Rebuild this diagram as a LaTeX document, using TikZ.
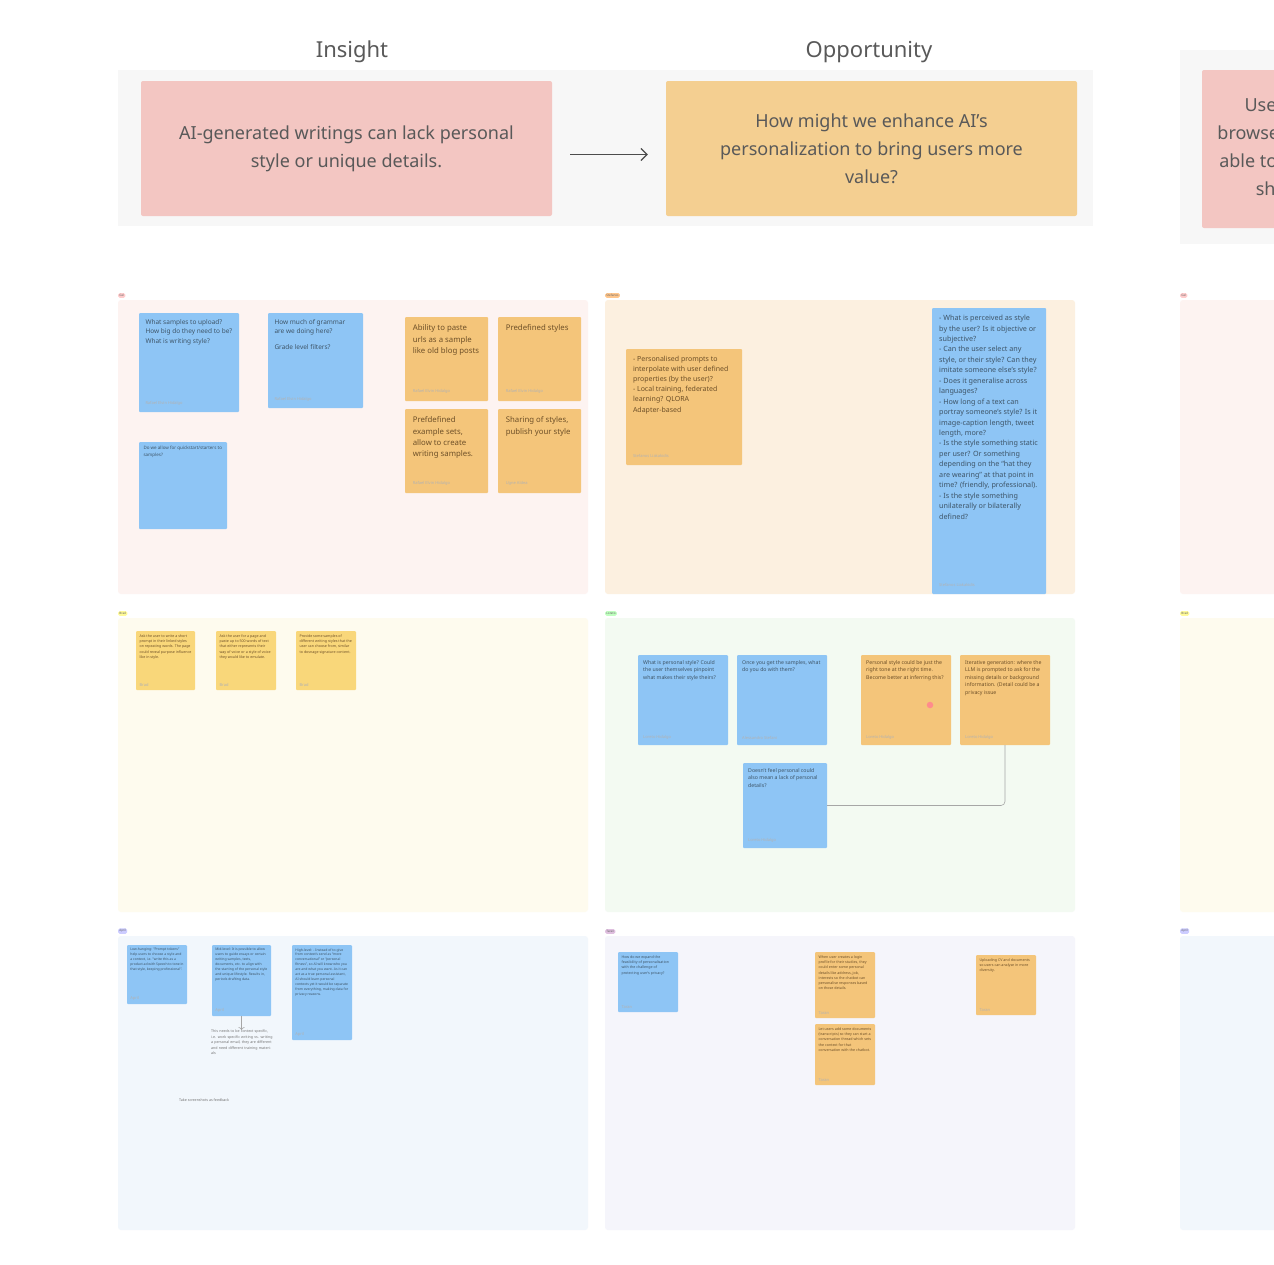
\documentclass[tikz,border=0pt]{standalone}
\usepackage{fontspec}
\setmainfont{Noto Sans}
\usetikzlibrary{positioning,arrows.meta}
\definecolor{stblue}{HTML}{8EC5F5}
\definecolor{storange}{HTML}{F4C57A}
\definecolor{styellow}{HTML}{F9D77A}
\definecolor{stpink}{HTML}{F3C6C2}
\definecolor{stpeach}{HTML}{F4CF91}
\definecolor{bluetext}{HTML}{3E5568}
\definecolor{orangetext}{HTML}{6E5028}
\definecolor{bgpink}{HTML}{FDF3F1}
\definecolor{bgpeach}{HTML}{FCF0E0}
\definecolor{bgyellow}{HTML}{FEFBEE}
\definecolor{bggreen}{HTML}{F3FAF2}
\definecolor{bgblue}{HTML}{F2F7FC}
\definecolor{bglilac}{HTML}{F5F5FB}
% name, colour, x, y, width, height, font size, text
\newcommand\stick[8]{%
  \node[sticky,fill=st#2,text=#2text,inner sep=#7pt,font=\fontsize{#7}{\dimexpr#7pt*145/100\relax}\selectfont] (#1) at (#3+#5/2,#4+#6/2)
    {\parbox[c][\dimexpr#6pt-2\dimexpr#7pt\relax\relax][t]{\dimexpr#5pt-2\dimexpr#7pt\relax\relax}{\raggedright #8}};}
\colorlet{yellowtext}{orangetext}
\newcommand\who[1]{\par\vfill{\color{black!30}\fontsize{4}{5}\selectfont #1}}

\begin{document}
\begin{tikzpicture}[x=1pt,y=-1pt,
  sticky/.style={rectangle,rounded corners=1pt,draw=none},
  band/.style={fill=#1,draw=none,rounded corners=3pt},
  tag/.style={fill=#1,rounded corners=1.5pt,inner sep=1.2pt,font=\fontsize{3}{3}\selectfont,text=black!60,anchor=south west},
  title/.style={font=\fontsize{22}{22}\selectfont,text=black!65},
  big/.style={rectangle,rounded corners=2pt,align=center,font=\fontsize{18}{28}\selectfont,text=black!65},
  link/.style={draw=black!35,line width=0.6pt,rounded corners=4pt}]
  \useasboundingbox (0,0) rectangle (1274,1264);
  \clip (0,0) rectangle (1274,1264);
  \fill[white] (0,0) rectangle (1274,1264);

  % top row
  \fill[black!3] (118,70) rectangle (1093,226);
  \fill[black!3] (1180,50) rectangle (1290,244);
  \node[title] (tins) at (352,52) {Insight};
  \node[title] (topp) at (869,52) {Opportunity};
  \node[big,fill=stpink,minimum width=411pt,minimum height=135pt] (ins) at (346.5,148.5) {AI-generated writings can lack personal\\style or unique details.};
  \node[big,fill=stpeach,minimum width=411pt,minimum height=135pt] (opp) at (871.5,148.5) {How might we enhance AI’s\\personalization to bring users more\\value?};
  \node[big,fill=stpink,minimum width=411pt,minimum height=158pt] (ins2) at (1407.5,149) {Users would like a simple way to easily\\browse through many different styles and be\\able to apply them all to their own writing or\\share their styles with other people.};
  \draw[-{Straight Barb[length=6pt,width=12pt]},black!70,line width=1.2pt] ([xshift=18,yshift=-6]ins.east) -- ([xshift=-18,yshift=-6]opp.west);

  % sections
  \foreach \x/\w in {118/470,1180/120} {
    \fill[band=bgpink] (\x,300) rectangle ++(\w,294);
    \fill[band=bgyellow] (\x,618) rectangle ++(\w,294);
    \fill[band=bgblue] (\x,936) rectangle ++(\w,294);
  }
  \fill[band=bgpeach] (605,300) rectangle ++(470,294);
  \fill[band=bggreen] (605,618) rectangle ++(470,294);
  \fill[band=bglilac] (605,936) rectangle ++(470,294);

  \node[tag=red!20] (g1) at (118,298) {Gel};
  \node[tag=orange!45] (g2) at (605,298) {Stefanos};
  \node[tag=red!20] (g3) at (1180,298) {Gel};
  \node[tag=yellow!40] (g4) at (118,616) {Brad};
  \node[tag=green!25] (g5) at (605,616) {Loreto};
  \node[tag=yellow!40] (g6) at (1180,616) {Brad};
  \node[tag=blue!20] (g7) at (118,934) {April};
  \node[tag=violet!25] (g8) at (605,934) {Taran};
  \node[tag=blue!20] (g9) at (1180,934) {April};

  % Gel
  \stick{a1}{blue}{139}{313}{100}{99}{6.5}{What samples to upload?\\How big do they need to be?\\What is writing style?\who{Rafael Elvin Hidalgo}}
  \stick{a2}{blue}{268}{313}{95}{95}{6.5}{How much of grammar are we doing here?\\[6pt]Grade level filters?\who{Rafael Elvin Hidalgo}}
  \stick{a3}{blue}{139}{442}{88}{87}{4.5}{Do we allow for quickstart/starters to samples?}
  \stick{a4}{orange}{405}{317}{83}{84}{7.8}{Ability to paste urls as a sample like old blog posts\who{Rafael Elvin Hidalgo}}
  \stick{a5}{orange}{498}{317}{83}{84}{7.8}{Predefined styles\who{Rafael Elvin Hidalgo}}
  \stick{a6}{orange}{405}{409}{83}{84}{7.8}{Prefdefined example sets, allow to create writing samples.\who{Rafael Elvin Hidalgo}}
  \stick{a7}{orange}{498}{409}{83}{84}{7.8}{Sharing of styles, publish your style\who{Ugne Aldea}}

  % Stefanos
  \stick{b1}{orange}{626}{349}{116}{116}{7}{- Personalised prompts to interpolate with user defined properties (by the user)?\\- Local training, federated learning? QLORA Adapter-based\who{Stefanos Liakakidis}}
  \stick{b2}{blue}{932}{308}{114}{286}{7.2}{- What is perceived as style by the user? Is it objective or subjective?\\- Can the user select any style, or their style? Can they imitate someone else's style?\\- Does it generalise across languages?\\- How long of a text can portray someone's style? Is it image-caption length, tweet length, more?\\- Is the style something static per user? Or something depending on the ``hat they are wearing'' at that point in time? (friendly, professional).\\- Is the style something unilaterally or bilaterally defined?\who{Stefanos Liakakidis}}

  % Brad
  \stick{c1}{yellow}{136}{631}{59}{59}{3.6}{Ask the user to write a short prompt in their linked styles on repeating words. The page could reveal purpose influence like in style.\who{Brad}}
  \stick{c2}{yellow}{216}{631}{60}{59}{3.6}{Ask the user for a page and paste up to 500 words of text that either represents their way of voice or a style of voice they would like to emulate.\who{Brad}}
  \stick{c3}{yellow}{296}{631}{60}{59}{3.6}{Provide some samples of different writing styles that the user can choose from, similar to dosnage signature content.\who{Brad}}

  % Loreto
  \stick{d1}{blue}{638}{655}{90}{90}{5.2}{What is personal style? Could the user themselves pinpoint what makes their style theirs?\who{Loreto Hidalgo}}
  \stick{d2}{blue}{737}{655}{90}{90}{5.2}{Once you get the samples, what do you do with them?\who{Alessandro Stefani}}
  \stick{d3}{orange}{861}{655}{90}{90}{5.2}{Personal style could be just the right tone at the right time. Become better at inferring this?\who{Loreto Hidalgo}}
  \stick{d4}{orange}{960}{655}{90}{90}{5.2}{Iterative generation: where the LLM is prompted to ask for the missing details or background information. (Detail could be a privacy issue\who{Loreto Hidalgo}}
  \stick{d5}{blue}{743}{763}{84}{85}{5.2}{Doesn't feel personal could also mean a lack of personal details?\who{Loreto Hidalgo}}
  \node[circle,fill=red!45,inner sep=2.3pt] (heart) at (930,705) {};
  \draw[link] (d5.east) -| (d4.south);

  % April
  \stick{e1}{blue}{127}{945}{60}{59}{3.4}{Low-hanging: "Prompt tokens" help users to choose a style and a context, i.e. "write this as a product ad with Speech to tone in that style, keeping professional".\who{April}}
  \stick{e2}{blue}{212}{945}{59}{71}{3.4}{Mid-level: It is possible to allow users to guide essays or certain writing samples, texts, documents, etc. to align with the starting of the personal style and unique lifestyle. Results in, periods drafting data.\who{April}}
  \stick{e3}{blue}{292}{945}{60}{95}{3.4}{High-level: - Instead of to give from context's send as "more conversational" or "personal fitness", so AI will know who you are and what you want. As it can act as a true personal assistant, AI should learn personal contexts yet it would be separate from everything, making data for privacy reasons.\who{April}}
  \node[anchor=north west,inner sep=0,text width=62pt,align=left,font=\fontsize{3.6}{5.4}\selectfont,text=black!55] (e4) at (211,1030) {This needs to be context specific, i.e. work specific writing vs. writing a personal email, they are different and need different training materials};
  \draw[link,->] (e2.south) -- (e2.south |- e4.north);
  \node[anchor=west,inner sep=0,font=\fontsize{3.6}{4}\selectfont,text=black!55] (e5) at (179,1100) {Take screenshots as feedback};

  % Taran
  \stick{f1}{blue}{618}{952}{60}{60}{3.6}{How do we expand the feasibility of personalisation with the challenge of protecting user's privacy?\who{Taran}}
  \stick{f2}{orange}{815}{952}{60}{66}{3.6}{When user creates a login profile for their studies, they could enter some personal details like address, job, interests so the chatbot can personalise responses based on those details.\who{Taran}}
  \stick{f3}{orange}{815}{1024}{60}{61}{3.6}{Let users add some documents (transcripts) so they can start a conversation thread which sets the context for that conversation with the chatbot.\who{Taran}}
  \stick{f4}{orange}{976}{955}{60}{60}{3.6}{Uploading CV and documents so users can analyse in more diversity.\who{Taran}}
\end{tikzpicture}
\end{document}
